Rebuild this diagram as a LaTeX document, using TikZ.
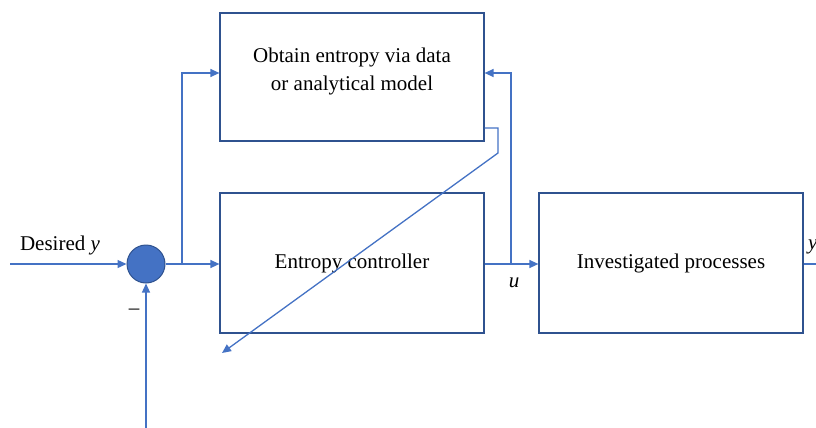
\documentclass[tikz,border=0pt]{standalone}
\usepackage{fontspec}
\setmainfont{Liberation Serif}
\usetikzlibrary{arrows.meta}
\definecolor{lineblue}{HTML}{4472C4}
\definecolor{boxblue}{HTML}{2F528F}
\begin{document}
\begin{tikzpicture}[x=1pt,y=-1pt,
  blk/.style={draw=boxblue, line width=1.2pt, minimum width=264pt, minimum height=140pt, inner sep=0pt, align=center, font=\fontsize{21}{28}\selectfont},
  conn/.style={draw=lineblue, line width=1.3pt},
  arr/.style={conn, -{Triangle[length=9pt,width=8pt]}},
  lbl/.style={font=\fontsize{21}{25}\selectfont, inner sep=0pt}]
\useasboundingbox (0,0) rectangle (816,428);
\node[blk, minimum height=128pt] (top) at (352,77) {};
\node[font=\fontsize{21}{28}\selectfont, align=center, inner sep=0pt] (toptext) at (352,71) {Obtain entropy via data\\or analytical model};
\node[blk] (ctrl) at (352,263) {Entropy controller};
\node[blk] (proc) at (671,263) {Investigated processes};
\node[circle, draw=boxblue, fill=lineblue, line width=1pt, minimum size=38pt, inner sep=0pt] (sum) at (146,264) {};
\coordinate (in) at (10,264);
\coordinate (fb) at (146,428);
\coordinate (out) at (816,264);
\coordinate (br1) at (182,264);
\coordinate (br2) at (511,264);
\coordinate (tip) at (222,353);
\draw[arr] (in) -- (sum.west);
\draw[arr] (sum.east) -- (ctrl.west |- sum.east);
\draw[arr] (br1) -- (182,73) -- (top.west |- 0,73);
\draw[arr] (fb) -- (sum.south);
\draw[arr] (ctrl.east |- br2) -- (proc.west |- br2);
\draw[arr] (br2) -- (511,73) -- (top.east |- 0,73);
\draw[arr] (top.east |- 0,128) -- (498,128) -- (498,153) -- (tip);
\draw[conn] (proc.east |- out) -- (out);
\node[lbl] (des) at (60,245) {Desired \textit{y}};
\node[lbl] (minus) at (134,312) {\textendash};
\node[lbl] (u) at (514,283) {\textit{u}};
\node[lbl, anchor=west] (yout) at (808,247) {\textit{y}};
\end{tikzpicture}
\end{document}
